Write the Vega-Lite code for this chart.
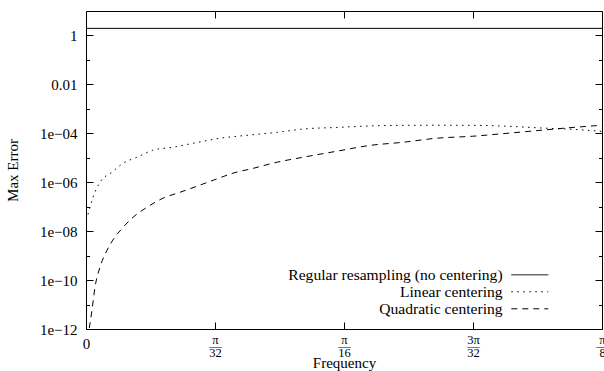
{
  "$schema": "https://vega.github.io/schema/vega-lite/v6.json",
  "width": 516,
  "height": 318,
  "autosize": {"type": "none"},
  "padding": {"left": 86, "top": 11, "right": 2, "bottom": 42},
  "background": "white",
  "config": {
    "font": "Liberation Serif",
    "view": {"stroke": "black", "strokeWidth": 1},
    "axis": {
      "domain": false,
      "grid": false,
      "labelFont": "Liberation Serif",
      "labelColor": "black",
      "titleFont": "Liberation Serif",
      "titleFontWeight": "normal",
      "titleColor": "black",
      "tickColor": "black",
      "tickWidth": 1,
      "labelFontSize": 15,
      "titleFontSize": 15
    }
  },
  "data": {
    "values": [
      {"series": "Regular resampling (no centering)", "f": 0, "err": 1.95},
      {"series": "Regular resampling (no centering)", "f": 0.125, "err": 1.95},
      {"series": "Linear centering", "f": 0.00007, "err": 2.8e-8},
      {"series": "Linear centering", "f": 0.00097, "err": 9.5e-8},
      {"series": "Linear centering", "f": 0.0017, "err": 2.45e-7},
      {"series": "Linear centering", "f": 0.0034, "err": 1.0e-6},
      {"series": "Linear centering", "f": 0.0063, "err": 2.57e-6},
      {"series": "Linear centering", "f": 0.009, "err": 6.0e-6},
      {"series": "Linear centering", "f": 0.01235, "err": 1.05e-5},
      {"series": "Linear centering", "f": 0.0162, "err": 2.04e-5},
      {"series": "Linear centering", "f": 0.0211, "err": 2.7e-5},
      {"series": "Linear centering", "f": 0.0259, "err": 3.9e-5},
      {"series": "Linear centering", "f": 0.0325, "err": 6.3e-5},
      {"series": "Linear centering", "f": 0.039, "err": 8.3e-5},
      {"series": "Linear centering", "f": 0.0463, "err": 1.1e-4},
      {"series": "Linear centering", "f": 0.0526, "err": 1.5e-4},
      {"series": "Linear centering", "f": 0.0608, "err": 1.74e-4},
      {"series": "Linear centering", "f": 0.0688, "err": 2.0e-4},
      {"series": "Linear centering", "f": 0.0768, "err": 2.12e-4},
      {"series": "Linear centering", "f": 0.085, "err": 2.14e-4},
      {"series": "Linear centering", "f": 0.0937, "err": 2.12e-4},
      {"series": "Linear centering", "f": 0.102, "err": 1.95e-4},
      {"series": "Linear centering", "f": 0.11, "err": 1.66e-4},
      {"series": "Linear centering", "f": 0.118, "err": 1.45e-4},
      {"series": "Linear centering", "f": 0.125, "err": 1.2e-4},
      {"series": "Quadratic centering", "f": 0.0008, "err": 1.1e-12},
      {"series": "Quadratic centering", "f": 0.00145, "err": 6.0e-12},
      {"series": "Quadratic centering", "f": 0.00218, "err": 5.1e-11},
      {"series": "Quadratic centering", "f": 0.0034, "err": 3.4e-10},
      {"series": "Quadratic centering", "f": 0.0051, "err": 1.66e-9},
      {"series": "Quadratic centering", "f": 0.0065, "err": 4.3e-9},
      {"series": "Quadratic centering", "f": 0.009, "err": 1.45e-8},
      {"series": "Quadratic centering", "f": 0.0114, "err": 3.7e-8},
      {"series": "Quadratic centering", "f": 0.0148, "err": 9.5e-8},
      {"series": "Quadratic centering", "f": 0.0187, "err": 2.24e-7},
      {"series": "Quadratic centering", "f": 0.0228, "err": 3.9e-7},
      {"series": "Quadratic centering", "f": 0.0269, "err": 6.9e-7},
      {"series": "Quadratic centering", "f": 0.0308, "err": 1.2e-6},
      {"series": "Quadratic centering", "f": 0.0356, "err": 2.34e-6},
      {"series": "Quadratic centering", "f": 0.0405, "err": 3.7e-6},
      {"series": "Quadratic centering", "f": 0.0463, "err": 6.6e-6},
      {"series": "Quadratic centering", "f": 0.0526, "err": 1.05e-5},
      {"series": "Quadratic centering", "f": 0.0608, "err": 1.86e-5},
      {"series": "Quadratic centering", "f": 0.0688, "err": 3.2e-5},
      {"series": "Quadratic centering", "f": 0.0768, "err": 4.3e-5},
      {"series": "Quadratic centering", "f": 0.085, "err": 6.3e-5},
      {"series": "Quadratic centering", "f": 0.0937, "err": 7.6e-5},
      {"series": "Quadratic centering", "f": 0.102, "err": 1.0e-4},
      {"series": "Quadratic centering", "f": 0.11, "err": 1.32e-4},
      {"series": "Quadratic centering", "f": 0.118, "err": 1.74e-4},
      {"series": "Quadratic centering", "f": 0.125, "err": 2.14e-4}
    ]
  },
  "layer": [
    {
      "mark": {"type": "line", "interpolate": "monotone", "strokeWidth": 1, "color": "black"},
      "encoding": {
        "x": {
          "field": "f", "type": "quantitative",
          "scale": {"domain": [0, 0.125], "nice": false, "zero": false},
          "axis": {
            "orient": "bottom",
            "values": [0, 0.03125, 0.0625, 0.09375, 0.125],
            "tickSize": -7,
            "labelPadding": {"condition": {"test": "datum.value == 0", "value": 14}, "value": 11},
            "labelBaseline": "top",
            "labelFlush": false,
            "labelOverlap": false,
            "labelLineHeight": 6.5,
            "labelFontSize": {"condition": {"test": "datum.value == 0", "value": 15}, "value": 12.5},
            "labelExpr": "datum.value == 0 ? '0' : datum.value < 0.05 ? ['π', '—', '32'] : datum.value < 0.08 ? ['π', '—', '16'] : datum.value < 0.1 ? ['3π', '—', '32'] : ['π', '—', '8']",
            "title": "Frequency",
            "titleBaseline": "alphabetic",
            "titleY": 38
          }
        },
        "y": {
          "field": "err", "type": "quantitative",
          "scale": {"type": "log", "domain": [1e-12, 10], "nice": false},
          "axis": {
            "orient": "left",
            "values": [1e-12, 1e-11, 1e-10, 1e-9, 1e-8, 1e-7, 1e-6, 1e-5, 1e-4, 1e-3, 1e-2, 1e-1, 1],
            "tickSize": {"condition": {"test": "round(log(datum.value)/LN10) % 2 == 0", "value": -7}, "value": -3.5},
            "labelPadding": 16,
            "labelExpr": "round(log(datum.value)/LN10) % 2 != 0 ? '' : round(log(datum.value)/LN10) == 0 ? '1' : round(log(datum.value)/LN10) == -2 ? '0.01' : '1e\u2212' + (round(-log(datum.value)/LN10) < 10 ? '0' : '') + round(-log(datum.value)/LN10)",
            "labelOverlap": false,
            "labelFlush": false,
            "title": "Max Error",
            "titlePadding": 19
          }
        },
        "strokeDash": {
          "field": "series", "type": "nominal",
          "scale": {
            "domain": ["Regular resampling (no centering)", "Linear centering", "Quadratic centering"],
            "range": [[1, 0], [1.5, 4.5], [6, 5]]
          },
          "legend": {
            "orient": "none",
            "legendX": 436,
            "legendY": 256,
            "title": null,
            "padding": 0,
            "symbolType": "M-3,0H3",
            "symbolSize": 152,
            "symbolStrokeWidth": 1,
            "symbolStrokeColor": "black",
            "labelAlign": "right",
            "labelOffset": -35,
            "labelFontSize": 15.6,
            "labelFont": "Liberation Serif",
            "labelColor": "black",
            "labelLimit": 400,
            "rowPadding": 0
          }
        }
      }
    },
    {
      "mark": {"type": "line", "opacity": 0},
      "encoding": {
        "x": {
          "field": "f", "type": "quantitative",
          "axis": {"orient": "top", "values": [0, 0.03125, 0.0625, 0.09375, 0.125], "tickSize": -7, "labels": false, "title": null}
        },
        "y": {
          "field": "err", "type": "quantitative",
          "axis": {
            "orient": "right",
            "values": [1e-12, 1e-11, 1e-10, 1e-9, 1e-8, 1e-7, 1e-6, 1e-5, 1e-4, 1e-3, 1e-2, 1e-1, 1],
            "tickSize": {"condition": {"test": "round(log(datum.value)/LN10) % 2 == 0", "value": -7}, "value": -3.5},
            "labels": false,
            "title": null
          }
        },
        "detail": {"field": "series", "type": "nominal"}
      }
    }
  ],
  "resolve": {"axis": {"x": "independent", "y": "independent"}}
}
